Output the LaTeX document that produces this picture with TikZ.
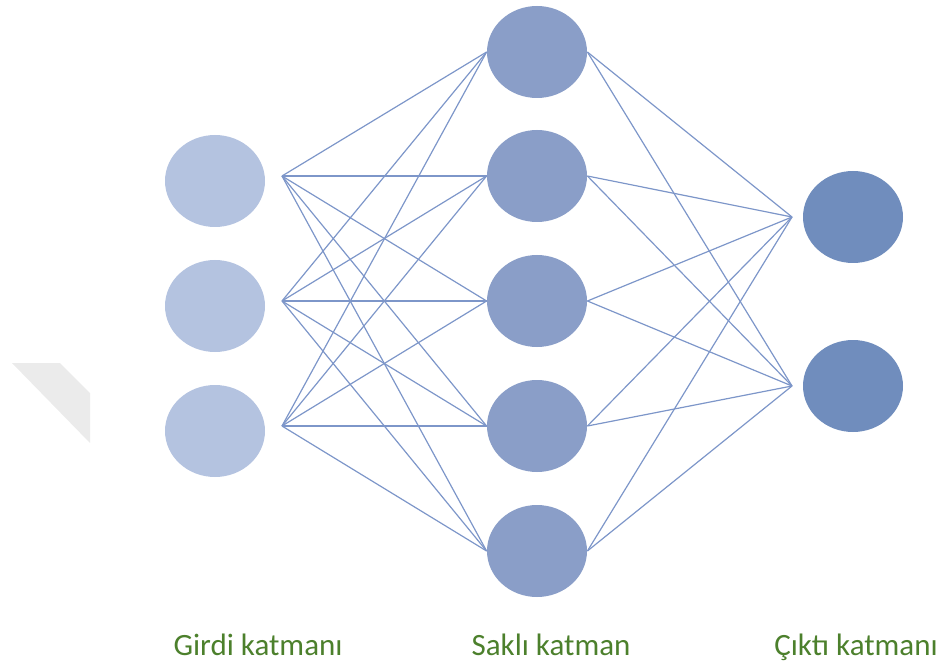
\documentclass[tikz,border=0pt]{standalone}
\usepackage{fontspec}
\setmainfont{Carlito}
\usepackage{tikz}
\usetikzlibrary{shapes.geometric,positioning}
\definecolor{inblue}{HTML}{B4C3E0}
\definecolor{hidblue}{HTML}{8A9EC8}
\definecolor{outblue}{HTML}{708DBD}
\definecolor{linkblue}{HTML}{7D96C9}
\definecolor{labgreen}{HTML}{4C802C}

\begin{document}
\begin{tikzpicture}[
  x=0.5pt, y=-0.5pt,
  neuron/.style={ellipse, draw=none, minimum width=50pt, minimum height=46pt, inner sep=0pt},
  inneuron/.style={neuron, fill=inblue},
  hidneuron/.style={neuron, fill=hidblue},
  outneuron/.style={neuron, fill=outblue},
  link/.style={draw=linkblue, line width=0.6pt},
  layerlabel/.style={anchor=base, text=labgreen, font=\fontsize{15.5}{18}\selectfont, inner sep=0pt}
]
\useasboundingbox (0,0) rectangle (942,663);
\fill[black!8] (12,363) -- (60,363) -- (90,393) -- (90,443) -- cycle;

% input layer
\foreach \y [count=\i] in {181,306,431} {
  \node[inneuron] (in\i) at (215,\y) {};
  \coordinate (i\i) at (282,\y-5);
}
% hidden layer
\foreach \y [count=\j] in {52,176,301,426,551}
  \node[hidneuron] (hid\j) at (537,\y) {};
% output layer
\foreach \y [count=\k] in {217,386} {
  \node[outneuron] (out\k) at (853,\y) {};
  \coordinate (o\k) at (792,\y);
}

% weights
\foreach \i in {1,2,3}
  \foreach \j in {1,...,5}
    \draw[link] (i\i) -- (hid\j.west);
\foreach \j in {1,...,5}
  \foreach \k in {1,2}
    \draw[link] (hid\j.east) -- (o\k);

\node[layerlabel] (lin) at (258,655) {Girdi katmanı};
\node[layerlabel] (lhid) at (551,655) {Saklı katman};
\node[layerlabel] (lout) at (856,655) {Çıktı katmanı};
\end{tikzpicture}
\end{document}
